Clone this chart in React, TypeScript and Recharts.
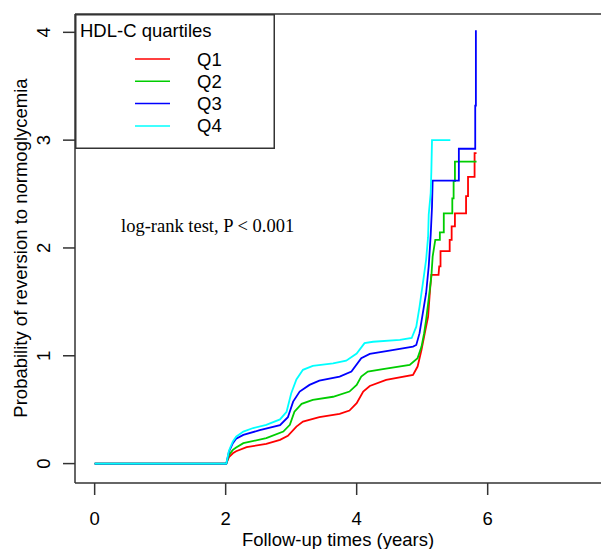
import React from "react";
import {
  LineChart, Line, XAxis, YAxis, Legend, ReferenceLine, Customized,
} from "recharts";

// follow-up time (years) and cumulative probability
const q1Times = [0, 2.01, 2.05, 2.11, 2.16, 2.32, 2.62, 2.83, 2.95, 3.08, 3.18, 3.43, 3.74, 3.89, 4.0, 4.1, 4.2, 4.45, 4.86, 4.93, 4.99, 5.05, 5.09, 5.12, 5.14, 5.25, 5.26, 5.28, 5.28, 5.42, 5.42, 5.45, 5.45, 5.5, 5.5, 5.67, 5.67, 5.7, 5.7, 5.8, 5.8, 5.83];
const q1Values = [0, 0, 0.06, 0.096, 0.115, 0.152, 0.183, 0.22, 0.257, 0.343, 0.39, 0.43, 0.461, 0.492, 0.56, 0.668, 0.72, 0.776, 0.823, 0.9, 1.055, 1.24, 1.36, 1.61, 1.75, 1.75, 1.83, 1.83, 1.97, 1.97, 2.075, 2.075, 2.2, 2.2, 2.32, 2.32, 2.48, 2.48, 2.66, 2.66, 2.88, 2.88];

const q2Times = [0, 2.01, 2.05, 2.11, 2.16, 2.27, 2.62, 2.88, 2.98, 3.05, 3.16, 3.33, 3.64, 3.89, 4.0, 4.07, 4.17, 4.4, 4.81, 4.93, 4.99, 5.03, 5.06, 5.11, 5.14, 5.16, 5.2, 5.27, 5.27, 5.33, 5.33, 5.46, 5.46, 5.48, 5.48, 5.5, 5.5, 5.83];
const q2Values = [0, 0, 0.08, 0.127, 0.15, 0.19, 0.236, 0.297, 0.359, 0.482, 0.554, 0.59, 0.62, 0.668, 0.73, 0.807, 0.853, 0.876, 0.916, 0.978, 1.085, 1.21, 1.333, 1.58, 1.735, 1.92, 2.075, 2.075, 2.145, 2.145, 2.32, 2.32, 2.46, 2.46, 2.62, 2.62, 2.8, 2.8];

const q3Times = [0, 2.01, 2.05, 2.11, 2.16, 2.27, 2.52, 2.83, 2.95, 3.03, 3.13, 3.28, 3.43, 3.74, 3.92, 4.07, 4.2, 4.5, 4.86, 4.91, 4.96, 5.01, 5.06, 5.1, 5.13, 5.15, 5.16, 5.56, 5.56, 5.81, 5.81, 5.82, 5.82];
const q3Values = [0, 0, 0.11, 0.19, 0.23, 0.266, 0.31, 0.356, 0.43, 0.575, 0.668, 0.73, 0.77, 0.807, 0.853, 0.978, 1.018, 1.048, 1.085, 1.1, 1.21, 1.395, 1.58, 1.83, 2.12, 2.38, 2.625, 2.625, 2.92, 2.92, 3.32, 3.32, 4.02];

const q4Times = [0, 2.01, 2.05, 2.11, 2.16, 2.27, 2.42, 2.62, 2.83, 2.93, 3.0, 3.08, 3.18, 3.33, 3.64, 3.84, 4.0, 4.12, 4.25, 4.66, 4.84, 4.91, 4.96, 5.01, 5.06, 5.09, 5.1, 5.13, 5.14, 5.15, 5.43];
const q4Values = [0, 0, 0.12, 0.206, 0.25, 0.297, 0.33, 0.36, 0.41, 0.48, 0.65, 0.78, 0.87, 0.906, 0.93, 0.955, 1.02, 1.117, 1.13, 1.147, 1.165, 1.27, 1.456, 1.67, 1.89, 2.1, 2.31, 2.51, 2.71, 3.0, 3.0];

const seriesNames = ["Q1", "Q2", "Q3", "Q4"];
const seriesColors = ["#FF0000", "#00CD00", "#0000FF", "#00FFFF"];
const xTicks = [0, 2, 4, 6];
const yTicks = [0, 1, 2, 3, 4];

const X_DOMAIN = [-0.3, 7.73];
const Y_DOMAIN = [-0.18, 4.17];

const SANS = "'Liberation Sans', Arial, sans-serif";
const SERIF = "'Liberation Serif', 'Times New Roman', serif";
const AXIS = "#333";

const toRows = (times: number[], values: number[]) =>
  times.map((t, i) => ({ t, v: values[i] }));

const seriesData = [
  toRows(q1Times, q1Values),
  toRows(q2Times, q2Values),
  toRows(q3Times, q3Values),
  toRows(q4Times, q4Values),
];

const XTick = ({ x, y, payload }: any) => (
  <text x={x} y={y + 28} textAnchor="middle" fontFamily={SANS} fontSize={18.5} fill="#000">
    {payload.value}
  </text>
);

const YTick = ({ x, y, payload }: any) => (
  <text
    x={x - 11}
    y={y}
    transform={`rotate(-90, ${x - 11}, ${y})`}
    textAnchor="middle"
    fontFamily={SANS}
    fontSize={18.5}
    fill="#000"
  >
    {payload.value}
  </text>
);

function LegendBox({ payload }: any) {
  const items = payload || [];
  return (
    <svg width={200} height={135} style={{ display: "block" }}>
      <rect x={0.75} y={0.75} width={198.5} height={133.5} fill="#fff" stroke={AXIS} strokeWidth={1.5} />
      <text x={5} y={23} fontFamily={SANS} fontSize={18.5} fill="#000">HDL-C quartiles</text>
      {items.map((it: any, i: number) => {
        const cy = 45 + i * 22.3;
        return (
          <g key={it.value}>
            <line x1={60} x2={95} y1={cy} y2={cy} stroke={it.color} strokeWidth={1.5} />
            <text x={122} y={cy + 6.5} fontFamily={SANS} fontSize={18.5} fill="#000">{it.value}</text>
          </g>
        );
      })}
    </svg>
  );
}

const Annotations = () => (
  <g>
    <text x={121} y={232} fontFamily={SERIF} fontSize={18.5} fill="#000">
      log-rank test, P &lt; 0.001
    </text>
    <text x={338} y={546} textAnchor="middle" fontFamily={SANS} fontSize={18.5} fill="#000">
      Follow-up times (years)
    </text>
    <text
      x={27}
      y={248}
      transform="rotate(-90, 27, 248)"
      textAnchor="middle"
      fontFamily={SANS}
      fontSize={18.5}
      fill="#000"
    >
      Probability of reversion to normoglycemia
    </text>
  </g>
);

export default function App() {
  return (
    <div style={{ position: "absolute", left: 0, top: 0, background: "#fff" }}>
      <LineChart width={601} height={549} margin={{ top: 14, right: 0, bottom: 0, left: 0 }}>
        <XAxis
          type="number"
          dataKey="t"
          domain={X_DOMAIN}
          ticks={xTicks}
          allowDataOverflow
          height={66}
          tickSize={12}
          tick={<XTick />}
          axisLine={{ stroke: AXIS, strokeWidth: 1.5 }}
          tickLine={{ stroke: AXIS, strokeWidth: 1.5 }}
        />
        <YAxis
          type="number"
          domain={Y_DOMAIN}
          ticks={yTicks}
          allowDataOverflow
          width={75}
          tickSize={12}
          tick={<YTick />}
          axisLine={{ stroke: AXIS, strokeWidth: 1.5 }}
          tickLine={{ stroke: AXIS, strokeWidth: 1.5 }}
        />
        <ReferenceLine y={Y_DOMAIN[1]} stroke={AXIS} strokeWidth={1.5} />
        {seriesData.map((d, i) => (
          <Line
            key={seriesNames[i]}
            data={d}
            dataKey="v"
            name={seriesNames[i]}
            type="linear"
            stroke={seriesColors[i]}
            strokeWidth={1.8}
            dot={false}
            activeDot={false}
            isAnimationActive={false}
          />
        ))}
        <Legend
          layout="vertical"
          align="center"
          verticalAlign="middle"
          content={<LegendBox />}
          wrapperStyle={{ left: 75, top: 14, width: 200, height: 135 }}
        />
        <Customized component={<Annotations />} />
      </LineChart>
    </div>
  );
}
